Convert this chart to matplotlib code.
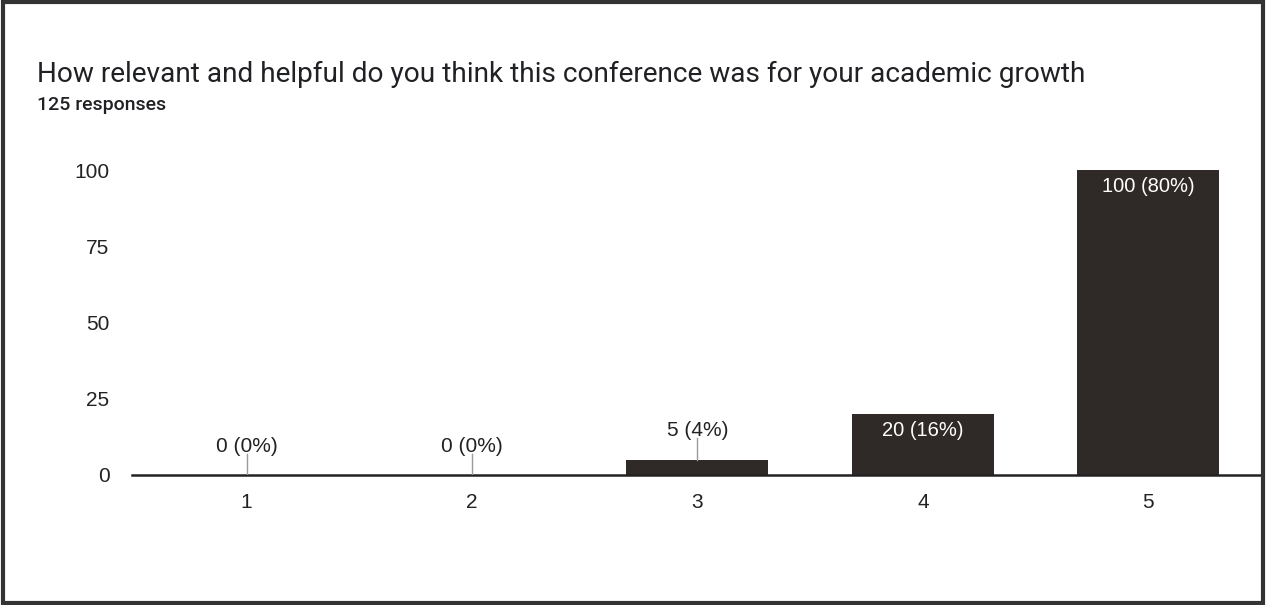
import matplotlib.pyplot as plt
from matplotlib.patches import Rectangle

# данные опроса
categories = ['1', '2', '3', '4', '5']
counts = [0, 0, 5, 20, 100]
percents = [0, 0, 4, 16, 80]
title = 'How relevant and helpful do you think this conference was for your academic growth'
subtitle = '125 responses'

plt.rcParams['font.family'] = ['Liberation Sans', 'DejaVu Sans']

fig = plt.figure(figsize=(12.66, 6.05), dpi=100)
ax = fig.add_axes([0.104, 0.2149, 0.892, 0.5041])

x = list(range(1, len(categories) + 1))
bar_color = '#2f2a27'
ax.bar(x, counts, width=0.63, color=bar_color, zorder=2)

for xi, c, p in zip(x, counts, percents):
    label = '%d (%d%%)' % (c, p)
    if c < 15:
        ax.plot([xi, xi], [c, c + 7], color='#9a9a9a', lw=1, zorder=3)
        ax.text(xi, c + 9.5, label, ha='center', va='center', fontsize=15, color='#222222')
    else:
        ax.text(xi, c - 5.5, label, ha='center', va='center', fontsize=14.5, color='white')

ax.set_xlim(0.49, 5.5)
ax.set_ylim(0, 100)
ax.set_xticks(x)
ax.set_xticklabels(categories)
ax.set_yticks([0, 25, 50, 75, 100])
ax.tick_params(axis='both', length=0, labelsize=15, colors='#222222')
ax.tick_params(axis='y', pad=16)
ax.tick_params(axis='x', pad=13)
for s in ['top', 'right', 'left']:
    ax.spines[s].set_visible(False)
ax.spines['bottom'].set_color('#222222')
ax.spines['bottom'].set_linewidth(1.8)

fig.text(0.029, 0.865, title, fontsize=20.2, color='#202124', va='baseline',
         family=['Roboto', 'DejaVu Sans'])
fig.text(0.029, 0.818, subtitle, fontsize=14, color='#202124', va='baseline', weight='medium',
         family=['Roboto', 'DejaVu Sans'])

fig.patches.append(Rectangle((0.002, 0.003), 0.996, 0.994, transform=fig.transFigure,
                             fill=False, edgecolor='#333333', lw=3))

fig.savefig('out.png', dpi=100)
